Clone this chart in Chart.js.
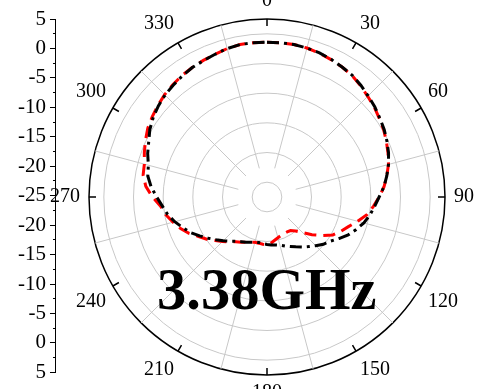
<!DOCTYPE html>
<html>
<head>
<meta charset="utf-8">
<script src="https://cdn.jsdelivr.net/npm/chart.js@4.4.1/dist/chart.umd.min.js"></script>
<style>
html,body{margin:0;padding:0;width:477px;height:389px;overflow:hidden;background:#fff;}
#polar{position:absolute;left:45px;top:-20px;}
#axis{position:absolute;left:0;top:0;}
#freq{position:absolute;left:157px;top:261px;font-family:"Liberation Serif","Times New Roman",serif;font-weight:bold;font-size:58.5px;line-height:58px;color:#000;white-space:nowrap;}
</style>
</head>
<body>
<canvas id="axis" width="130" height="389"></canvas>
<canvas id="polar" width="434" height="434"></canvas>
<div id="freq">3.38GHz</div>
<script>
// angle categories (degrees)
const angleCategories = [0,5,10,15,20,25,30,35,40,45,50,55,60,65,70,75,80,85,90,95,100,105,110,115,
  120,125,130,135,140,145,150,155,160,165,170,175,180,185,190,195,200,205,210,215,220,225,230,235,
  240,245,250,255,260,265,270,275,280,285,290,295,300,305,310,315,320,325,330,335,340,345,350,355];
// labelled angles
const angleTickLabels = [0,30,60,90,120,150,180,210,240,270,300,330];
// black dash-dot series (dB)
const seriesDashDot = [1.1,1.1,1.1,1.0,0.85,0.6,0.3,0.05,-0.4,-0.9,-1.3,-1.8,-2.2,-2.7,-3.2,-3.8,-4.5,-5.2,
  -6.1,-6.8,-7.4,-8.1,-9.0,-9.9,-11.0,-12.0,-12.6,-13.4,-14.1,-14.7,-15.3,-15.8,-16.2,-16.6,-16.8,-16.9,
  -17.0,-17.1,-17.2,-17.1,-16.9,-16.6,-16.3,-15.9,-15.3,-14.6,-13.8,-12.9,-11.9,-10.8,-9.9,-8.9,-8.0,-7.3,
  -6.4,-5.4,-4.6,-4.3,-3.6,-3.0,-2.2,-1.6,-1.1,-0.7,-0.4,-0.1,0.2,0.35,0.6,0.9,1.1,1.1];
// red dashed series (dB)
const seriesDashed = [1.1,1.1,1.1,1.0,0.8,0.55,0.3,0.0,-0.5,-1.0,-1.4,-1.9,-2.3,-2.8,-3.3,-3.8,-4.5,-5.2,
  -6.1,-7.0,-7.9,-9.2,-10.4,-11.3,-12.2,-13.7,-15.1,-16.5,-17.5,-18.1,-18.2,-18.2,-18.1,-17.9,-17.6,-17.2,
  -16.9,-17.0,-17.1,-17.1,-16.9,-16.6,-16.2,-15.8,-15.1,-14.4,-13.6,-12.6,-11.7,-10.5,-9.5,-8.6,-7.7,-7.0,
  -5.7,-4.5,-3.8,-3.6,-3.0,-2.4,-1.8,-1.4,-1.0,-0.6,-0.3,0.0,0.2,0.4,0.6,0.9,1.1,1.1];
// radial scale
const radialMin = -25;
const radialMax = 5;
const ringValues = [-22.5,-17.5,-12.5,-7.5,-2.5,2.5,5];
const spokeStartValue = -20;
// left axis tick labels, top to bottom
const axisTickLabels = ['5','0','-5','-10','-15','-20','-25','-20','-15','-10','-5','0','5'];

const SERIF = '"Liberation Serif", "Times New Roman", serif';
const GRAY = '#c8c8c8';

new Chart(document.getElementById('polar'), {
  type: 'radar',
  data: {
    labels: angleCategories.map(String),
    datasets: [
      {data: seriesDashDot, borderColor: '#000', borderWidth: 3, borderDash: [12,5,3,5], fill: false, pointRadius: 0, tension: 0},
      {data: seriesDashed, borderColor: '#ff0000', borderWidth: 3, borderDash: [12,7], fill: false, pointRadius: 0, tension: 0}
    ]
  },
  options: {
    responsive: false,
    animation: false,
    devicePixelRatio: 1,
    layout: {padding: 0},
    plugins: {legend: {display: false}, tooltip: {enabled: false}},
    scales: {
      r: {
        min: radialMin,
        max: radialMax,
        ticks: {display: false, stepSize: 5},
        afterBuildTicks: (s) => { s.ticks = ringValues.map(v => ({value: v})); },
        grid: {
          circular: true,
          color: (c) => (c.tick && c.tick.value === radialMax) ? '#000' : GRAY,
          lineWidth: (c) => (c.tick && c.tick.value === radialMax) ? 1.5 : 1
        },
        angleLines: {
          display: true,
          color: (c) => (angleCategories[c.index] % 30 === 0) ? '#000' : GRAY,
          lineWidth: (c) => {
            const a = angleCategories[c.index];
            return a % 30 === 0 ? 1.5 : (a % 30 === 15 ? 1 : 0);
          },
          borderDash: (c) => {
            const s = c.scale;
            const a = angleCategories[c.index];
            if (a % 30 === 0) return [0, s.drawingArea - 7, 60, 0];
            return [0, s.getDistanceFromCenterForValue(spokeStartValue), 600, 0];
          }
        },
        pointLabels: {
          display: true,
          color: '#000',
          callback: (lbl, i) => angleTickLabels.includes(angleCategories[i]) ? String(angleCategories[i]) : '',
          font: (c) => ({family: SERIF, size: angleTickLabels.includes(angleCategories[c.index]) ? 20 : 1}),
          padding: (c) => {
            const a = angleCategories[c.index];
            return (a === 0 || a === 180) ? 6 : ((a === 90 || a === 270) ? 9 : 8);
          }
        }
      }
    }
  }
});

new Chart(document.getElementById('axis'), {
  type: 'line',
  data: {labels: [], datasets: []},
  options: {
    responsive: false,
    animation: false,
    devicePixelRatio: 1,
    layout: {padding: {left: 14, top: 19, bottom: 15, right: 0}},
    plugins: {legend: {display: false}, tooltip: {enabled: false}},
    scales: {
      x: {display: false},
      y: {
        min: -30,
        max: 30,
        grid: {
          drawOnChartArea: false,
          drawTicks: true,
          tickLength: 6,
          tickColor: '#000',
          tickWidth: 1,
          tickBorderDash: (c) => (c.tick && Math.abs(c.tick.value) % 5 !== 0) ? [0, 3, 10, 0] : []
        },
        border: {display: true, color: '#000', width: 1},
        ticks: {
          stepSize: 2.5,
          autoSkip: false,
          padding: 4,
          color: '#000',
          font: {family: SERIF, size: 21},
          callback: (v) => (Math.abs(v) % 5 === 0) ? axisTickLabels[Math.round((30 - v) / 5)] : ''
        }
      }
    }
  }
});
</script>
</body>
</html>
